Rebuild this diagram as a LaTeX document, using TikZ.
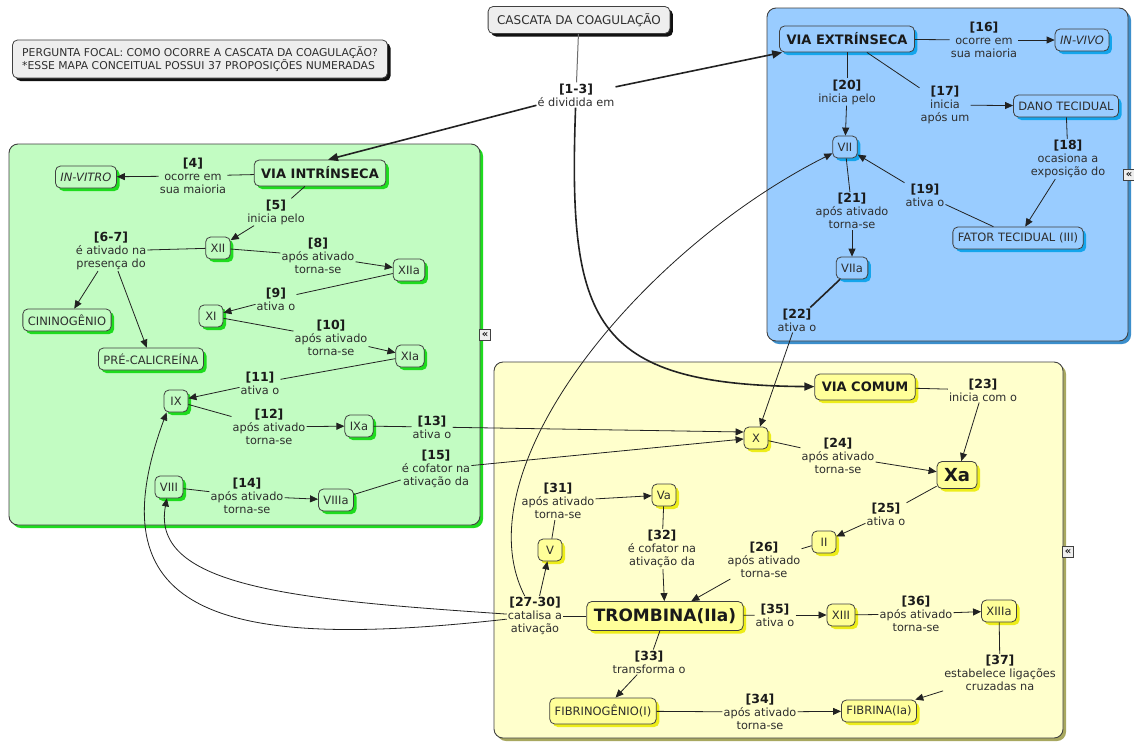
\documentclass[tikz,border=0pt]{standalone}
\usepackage{fontspec}
\setmainfont{DejaVu Sans}
\usepackage{xcolor}
\usepackage{tikz}
\usetikzlibrary{arrows.meta,shadows}
\definecolor{CascInk}{HTML}{1A1A1A}
\definecolor{CascMuted}{HTML}{2E2E2E}
\definecolor{CascLine}{HTML}{222222}
\definecolor{CascSoftLine}{HTML}{6E6E6E}
\definecolor{CascEdge}{HTML}{404040}
\definecolor{CascGreyFill}{HTML}{EEEEEE}
\definecolor{CascGreyShade}{HTML}{111111}
\definecolor{CascBlueFill}{HTML}{99CCFF}
\definecolor{CascBlueShade}{HTML}{14A5EC}
\definecolor{CascBluePanel}{HTML}{3C8FCC}
\definecolor{CascGreenFill}{HTML}{C2FCC2}
\definecolor{CascGreenShade}{HTML}{1EDC1E}
\definecolor{CascYellowFill}{HTML}{FFFFCC}
\definecolor{CascYellowNode}{HTML}{FFFF99}
\definecolor{CascYellowShade}{HTML}{EDED1A}
\definecolor{CascYellowPanel}{HTML}{A8A860}
\newcommand{\propno}[1]{{\fontsize{12.5pt}{13pt}\selectfont\bfseries\color{CascInk}[#1]}}
\tikzset{
  panel/.style={draw=CascEdge, line width=0.9pt, rounded corners=9pt},
  concept/.style={draw=CascEdge, line width=0.8pt, rounded corners=5pt, minimum height=22pt,
    minimum width=24pt, inner xsep=5pt, inner ysep=2pt, text=CascMuted,
    font=\fontsize{11.5pt}{13pt}\selectfont},
  keyconcept/.style={concept, minimum height=26pt, inner xsep=7pt, text=CascInk,
    font=\fontsize{13pt}{15pt}\selectfont\bfseries},
  greybox/.style={concept, fill=CascGreyFill,
    drop shadow={shadow xshift=3pt, shadow yshift=-3pt, fill=CascGreyShade, opacity=1}},
  bluebox/.style={concept, fill=CascBlueFill,
    drop shadow={shadow xshift=3pt, shadow yshift=-3pt, fill=CascBlueShade, opacity=1}},
  greenbox/.style={concept, fill=CascGreenFill,
    drop shadow={shadow xshift=3pt, shadow yshift=-3pt, fill=CascGreenShade, opacity=1}},
  yellowbox/.style={concept, fill=CascYellowNode,
    drop shadow={shadow xshift=3pt, shadow yshift=-3pt, fill=CascYellowShade, opacity=1}},
  linkp/.style={align=center, inner sep=1pt, text=CascMuted, font=\fontsize{11.3pt}{13pt}\selectfont},
  conn/.style={draw=CascLine, line width=0.8pt},
  arr/.style={conn, -{Triangle[length=8pt,width=7pt]}},
  mainarr/.style={conn, line width=1.6pt, -{Triangle[length=10pt,width=8pt]}},
  foldmark/.style={draw=CascEdge, fill=CascGreyFill, line width=0.6pt, inner sep=0pt, minimum size=11pt,
    text=CascInk, font=\fontsize{10pt}{10pt}\selectfont\bfseries}
}

\begin{document}
\begin{tikzpicture}[x=1pt,y=-1pt]
  \path[use as bounding box, fill=white] (0,0) rectangle (1134,742);

  % the three groups
  \draw[panel, fill=CascBlueFill,
    drop shadow={shadow xshift=3pt, shadow yshift=-3pt, fill=CascBluePanel, opacity=1}] (767,8) rectangle (1128,341);
  \draw[panel, fill=CascGreenFill,
    drop shadow={shadow xshift=3pt, shadow yshift=-3pt, fill=CascGreenShade, opacity=1}] (9,144) rectangle (480,525);
  \draw[panel, fill=CascYellowFill,
    drop shadow={shadow xshift=3pt, shadow yshift=-3pt, fill=CascYellowPanel, opacity=1}] (494,362) rectangle (1063,738);
  \node[foldmark] (foldBlue) at (1129,175) {«};
  \node[foldmark] (foldGreen) at (485,335) {«};
  \node[foldmark] (foldYellow) at (1068,552) {«};

  % focus question and root
  \node[greybox, align=left, minimum width=375pt, minimum height=38pt, inner xsep=4pt,
    font=\fontsize{10.8pt}{13pt}\selectfont] (focus) at (200,59)
    {PERGUNTA FOCAL: COMO OCORRE A CASCATA DA COAGULAÇÃO?\\{}*ESSE MAPA CONCEITUAL POSSUI 37 PROPOSIÇÕES NUMERADAS};
  \node[greybox, minimum height=27pt, inner xsep=9pt, font=\fontsize{12pt}{14pt}\selectfont] (root) at (579,20) {CASCATA DA COAGULAÇÃO};

  % via extrinseca
  \node[bluebox, keyconcept] (extr) at (847,39) {VIA EXTRÍNSECA};
  \node[bluebox] (invivo) at (1082,40) {\itshape IN-VIVO};
  \node[bluebox] (dano) at (1066,106) {DANO TECIDUAL};
  \node[bluebox] (f7) at (845,147) {VII};
  \node[bluebox] (f3) at (1018,238) {FATOR TECIDUAL (III)};
  \node[bluebox] (f7a) at (852,268) {VIIa};

  % via intrinseca
  \node[greenbox, keyconcept] (intr) at (320,173) {VIA INTRÍNSECA};
  \node[greenbox] (invitro) at (86,177) {\itshape IN-VITRO};
  \node[greenbox] (f12) at (218,248) {XII};
  \node[greenbox] (f12a) at (409,270) {XIIa};
  \node[greenbox] (f11) at (211,316) {XI};
  \node[greenbox] (f11a) at (410,356) {XIa};
  \node[greenbox] (cinin) at (67,320) {CININOGÊNIO};
  \node[greenbox] (precal) at (151,359) {PRÉ-CALICREÍNA};
  \node[greenbox] (f9) at (176,401) {IX};
  \node[greenbox] (f9a) at (359,426) {IXa};
  \node[greenbox] (f8) at (169,487) {VIII};
  \node[greenbox] (f8a) at (336,500) {VIIIa};

  % via comum
  \node[yellowbox, keyconcept] (comum) at (865,387) {VIA COMUM};
  \node[yellowbox] (f10) at (756,438) {X};
  \node[yellowbox, keyconcept, minimum height=27pt, font=\fontsize{18pt}{20pt}\selectfont\bfseries] (f10a) at (957,475) {Xa};
  \node[yellowbox] (f5a) at (664,495) {Va};
  \node[yellowbox] (f2) at (824,542) {II};
  \node[yellowbox] (f5) at (550,550) {V};
  \node[yellowbox, keyconcept, minimum height=29pt, font=\fontsize{17pt}{19pt}\selectfont\bfseries] (tromb) at (665,616) {TROMBINA(IIa)};
  \node[yellowbox] (f13) at (841,615) {XIII};
  \node[yellowbox] (f13a) at (999,611) {XIIIa};
  \node[yellowbox, minimum height=26pt] (fibrgen) at (603,711) {FIBRINOGÊNIO(I)};
  \node[yellowbox] (fibrina) at (879,711) {FIBRINA(Ia)};

  % linking phrases
  \foreach \id/\num/\x/\y/\txt in {
      p1to3/1-3/576/95/{é dividida em},
      p16/16/984/40/{ocorre em\\sua maioria},
      p17/17/945/105/{inicia\\após um},
      p18/18/1068/159/{ocasiona a\\exposição do},
      p19/19/925/195/{ativa o},
      p20/20/847/92/{inicia pelo},
      p21/21/852/211/{após ativado\\torna-se},
      p22/22/797/320/{ativa o}} {
    \node[linkp] (\id) at (\x,\y) {\propno{\num}\\\txt};
  }
  \foreach \id/\num/\x/\y/\txt in {
      p4/4/193/176/{ocorre em\\sua maioria},
      p5/5/276/212/{inicia pelo},
      p6to7/6-7/111/251/{é ativado na\\presença do},
      p8/8/318/256/{após ativado\\torna-se},
      p9/9/276/299/{ativa o},
      p10/10/331/338/{após ativado\\torna-se},
      p11/11/260/383/{ativa o},
      p12/12/269/427/{após ativado\\torna-se},
      p13/13/432/427/{ativa o},
      p14/14/247/496/{após ativado\\torna-se},
      p15/15/436/469/{é cofator na\\ativação da}} {
    \node[linkp] (\id) at (\x,\y) {\propno{\num}\\\txt};
  }
  \foreach \id/\num/\x/\y/\txt in {
      p23/23/983/390/{inicia com o},
      p24/24/838/456/{após ativado\\torna-se},
      p25/25/886/514/{ativa o},
      p26/26/764/560/{após ativado\\torna-se},
      p27to30/27-30/535/616/{catalisa a\\ativação},
      p31/31/558/501/{após ativado\\torna-se},
      p32/32/662/549/{é cofator na\\ativação da},
      p33/33/649/662/{transforma o},
      p34/34/760/712/{após ativado\\torna-se},
      p35/35/775/615/{ativa o},
      p36/36/916/614/{após ativado\\torna-se},
      p37/37/1000/673/{estabelece ligações\\cruzadas na}} {
    \node[linkp] (\id) at (\x,\y) {\propno{\num}\\\txt};
  }

  % connectors
  \draw[conn, draw=CascSoftLine, line width=1pt] (root) -- (p1to3);
  \draw[mainarr] (p1to3) -- (extr);
  \draw[mainarr] (p1to3) -- ([xshift=8pt]intr.north);
  \draw[mainarr] (p1to3) .. controls (568,320) and (590,385) .. (comum);

  \draw[conn] (extr) -- (p16);  \draw[arr] (p16) -- (invivo);
  \draw[conn] (extr) -- (p20);  \draw[arr] (p20) -- (f7);
  \draw[conn] (extr) -- (p17);  \draw[arr] (p17) -- (dano);
  \draw[conn] (dano) -- (p18);  \draw[arr] (p18) -- (f3);
  \draw[conn] (f3) -- (p19);    \draw[arr] (p19) -- (f7);
  \draw[conn] (f7) -- (p21);    \draw[arr] (p21) -- (f7a);
  \draw[conn, line width=1.6pt] (f7a) -- (p22);  \draw[arr] (p22) -- (f10);

  \draw[conn] (intr) -- (p4);   \draw[arr] (p4) -- (invitro);
  \draw[conn] (intr) -- (p5);   \draw[arr] (p5) -- (f12);
  \draw[conn] (f12) -- (p6to7);
  \draw[arr] ([xshift=-13pt]p6to7.south) -- (cinin);
  \draw[arr] ([xshift=7pt]p6to7.south) -- (precal);
  \draw[conn] (f12) -- (p8);    \draw[arr] (p8) -- (f12a);
  \draw[conn] (f12a) -- (p9);   \draw[arr] (p9) -- (f11);
  \draw[conn] (f11) -- (p10);   \draw[arr] (p10) -- (f11a);
  \draw[conn] (f11a) -- (p11);  \draw[arr] (p11) -- (f9);
  \draw[conn] (f9) -- (p12);    \draw[arr] (p12) -- (f9a);
  \draw[conn] (f9a) -- (p13);   \draw[arr] (p13) -- ([yshift=6pt]f10.west);
  \draw[conn] (f8) -- (p14);    \draw[arr] (p14) -- (f8a);
  \draw[conn] (f8a) -- (p15);   \draw[arr] (p15) -- ([yshift=-1pt]f10.west);

  \draw[conn] (comum) -- (p23); \draw[arr] (p23) -- (f10a);
  \draw[conn] (f10) -- (p24);   \draw[arr] (p24) -- (f10a);
  \draw[conn] (f10a) -- (p25);  \draw[arr] (p25) -- (f2);
  \draw[conn] (f2) -- (p26);    \draw[arr] (p26) -- (tromb);
  \draw[conn] (f5) -- (p31);    \draw[arr] (p31) -- (f5a);
  \draw[conn] (f5a) -- (p32);   \draw[arr] (p32) -- (tromb);
  \draw[conn] (tromb) -- (p27to30);
  \draw[arr] (p27to30) -- (f5);
  \draw[arr] (p27to30) .. controls (460,470) and (640,250) .. (f7);
  \draw[arr] (p27to30) .. controls (230,650) and (90,620) .. ([xshift=3pt]f9.south west);
  \draw[arr] (p27to30) .. controls (300,600) and (150,588) .. (f8);
  \draw[conn] (tromb) -- (p35); \draw[arr] (p35) -- (f13);
  \draw[conn] (tromb) -- (p33); \draw[arr] (p33) -- (fibrgen);
  \draw[conn] (fibrgen) -- (p34); \draw[arr] (p34) -- (fibrina);
  \draw[conn] (f13) -- (p36);   \draw[arr] (p36) -- (f13a);
  \draw[conn] (f13a) -- (p37);  \draw[arr] (p37) -- (fibrina);
\end{tikzpicture}
\end{document}
